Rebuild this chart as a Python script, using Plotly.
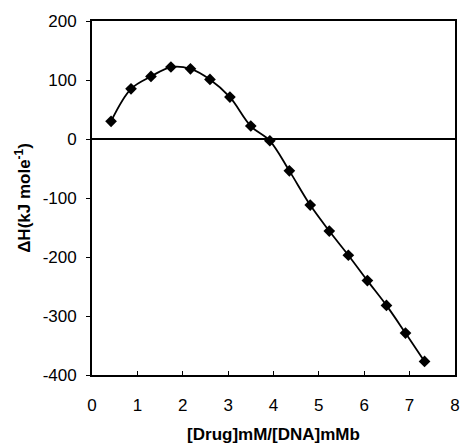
import plotly.graph_objects as go

ratio = [0.42, 0.86, 1.30, 1.74, 2.17, 2.60, 3.04, 3.50, 3.92, 4.35, 4.81,
         5.23, 5.65, 6.07, 6.49, 6.91, 7.33]
delta_h = [30, 85, 106, 122, 119, 101, 71, 22, -3, -54, -112,
           -156, -197, -240, -282, -329, -377]

x_ticks = [0, 1, 2, 3, 4, 5, 6, 7, 8]
y_ticks = [-400, -300, -200, -100, 0, 100, 200]
y_tick_text = ["-400", "-300", "-200", "-100", "0", "100", "200"]

fig = go.Figure()
fig.add_trace(go.Scatter(
    x=ratio, y=delta_h, mode="lines+markers",
    line=dict(color="black", width=1.8, shape="spline", smoothing=1.0),
    marker=dict(symbol="diamond", size=9, color="black"),
    showlegend=False,
))

font_family = "Liberation Sans, Arial, sans-serif"
fig.update_layout(
    width=466, height=447,
    margin=dict(l=92, r=6, t=21, b=66),
    paper_bgcolor="white", plot_bgcolor="white",
    font=dict(family=font_family, size=17, color="black"),
    xaxis=dict(
        range=[0, 8.001], tickvals=x_ticks, ticks="inside", ticklen=4,
        tickcolor="black", showline=True, linecolor="black", linewidth=1.8,
        mirror=True, showgrid=False, zeroline=False, ticklabelstandoff=14,
        ticklabeloverflow="allow",
        title=dict(text="<b>[Drug]mM/[DNA]mMb</b>", font=dict(size=17), standoff=14),
    ),
    yaxis=dict(
        range=[-400, 200], tickvals=y_ticks, ticktext=y_tick_text,
        ticks="outside", ticklen=4, ticklabelstandoff=6,
        tickcolor="black", showline=True, linecolor="black", linewidth=1.8,
        mirror=True, showgrid=False, zeroline=True, zerolinecolor="black",
        zerolinewidth=1.5,
        title=dict(text="<b>ΔH(kJ mole<sup>-1</sup>)</b>", font=dict(size=17), standoff=8),
    ),
)

fig.write_html(
    "out.html",
    config={"displayModeBar": False},
    post_script="document.body.style.margin='0';document.body.style.overflow='hidden';",
)
